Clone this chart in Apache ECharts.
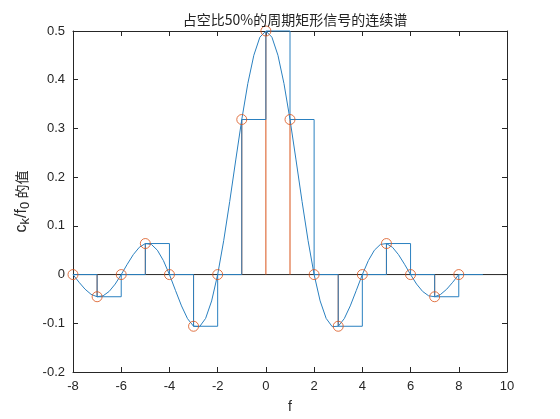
<!DOCTYPE html>
<html><head><meta charset="utf-8">
<script src="https://cdn.jsdelivr.net/npm/echarts@6/dist/echarts.min.js"></script>
<style>html,body{margin:0;padding:0;background:#fff}#c{width:560px;height:419px}</style>
</head><body><div id="c"></div>
<script>
// continuous spectrum samples (f, value)
const curveF = [-8,-7.75,-7.5,-7.25,-7,-6.75,-6.5,-6.25,-6,-5.75,-5.5,-5.25,-5,-4.75,-4.5,-4.25,-4,-3.75,-3.5,-3.25,-3,-2.75,-2.5,-2.25,-2,-1.75,-1.5,-1.25,-1,-0.75,-0.5,-0.25,0,0.25,0.5,0.75,1,1.25,1.5,1.75,2,2.25,2.5,2.75,3,3.25,3.5,3.75,4,4.25,4.5,4.75,5,5.25,5.5,5.75,6,6.25,6.5,6.75,7,7.25,7.5,7.75,8];
const curveV = [0,-0.0157,-0.0300,-0.0406,-0.0455,-0.0436,-0.0346,-0.0195,0,0.0212,0.0409,0.0560,0.0637,0.0619,0.0500,0.0287,0,-0.0325,-0.0643,-0.0905,-0.1061,-0.1069,-0.0900,-0.0541,0,0.0696,0.1501,0.2353,0.3183,0.3921,0.4502,0.4873,0.5,0.4873,0.4502,0.3921,0.3183,0.2353,0.1501,0.0696,0,-0.0541,-0.0900,-0.1069,-0.1061,-0.0905,-0.0643,-0.0325,0,0.0287,0.0500,0.0619,0.0637,0.0560,0.0409,0.0212,0,-0.0195,-0.0346,-0.0436,-0.0455,-0.0406,-0.0300,-0.0157,0];
// discrete spectrum lines c_k / f0
const stemK = [-8,-7,-6,-5,-4,-3,-2,-1,0,1,2,3,4,5,6,7,8];
const stemV = [0,-0.0455,0,0.0637,0,-0.1061,0,0.3183,0.5,0.3183,0,-0.1061,0,0.0637,0,-0.0455,0];
// staircase
const stairX = [-8,-7,-6,-5,-4,-3,-2,-1,0,1,2,3,4,5,6,7,8,9];
const stairV = [0,-0.0455,0,0.0637,0,-0.1061,0,0.3183,0.5,0.3183,0,-0.1061,0,0.0637,0,-0.0455,0,0];
const xTicks = [-8,-6,-4,-2,0,2,4,6,8,10];
const yTicks = [-0.2,-0.1,0,0.1,0.2,0.3,0.4,0.5];

const BLUE = '#2a80c0', ORANGE = '#D95319', AX = '#262626';
const chart = echarts.init(document.getElementById('c'));
const tickStyle = {show:true, inside:true, length:5, lineStyle:{color:AX}};
const lblFont = {color:AX, fontSize:13, fontFamily:'Liberation Sans, Arial, sans-serif'};
const axLine = {show:true, onZero:false, lineStyle:{color:AX}};
chart.setOption({
  animation:false,
  title:{text:'占空比50%的周期矩形信号的连续谱', left:290, top:8, textAlign:'center',
    textStyle:{fontSize:14, fontWeight:'normal', color:'#222', fontFamily:'Noto Sans CJK SC, sans-serif'}},
  grid:{left:73, right:53, top:31, bottom:47},
  xAxis:[{type:'value', min:-8, max:10, interval:2, position:'bottom',
    axisLine:axLine, axisTick:tickStyle, splitLine:{show:false},
    axisLabel:Object.assign({margin:8, formatter:v=>xTicks.includes(v)?String(v):''}, lblFont),
    name:'f', nameLocation:'middle', nameGap:28, nameTextStyle:Object.assign({}, lblFont, {fontSize:14})},
   {type:'value', min:-8, max:10, interval:2, position:'top',
    axisLine:axLine, axisTick:tickStyle, axisLabel:{show:false}, splitLine:{show:false}}],
  yAxis:[{type:'value', min:-0.2, max:0.5, interval:0.1, position:'left',
    axisLine:axLine, axisTick:tickStyle, splitLine:{show:false},
    axisLabel:Object.assign({margin:8, formatter:v=>{const r=Math.round(v*10)/10; return yTicks.includes(r)?String(r):'';}}, lblFont),
    name:'{n|c}{s|k}{n|/f}{s|0}{c| 的值}', nameLocation:'middle', nameGap:37, nameRotate:90,
    nameTextStyle:{rich:{
      n:{fontSize:16, color:AX, fontFamily:'Liberation Sans, Arial, sans-serif'},
      s:{fontSize:13, color:AX, verticalAlign:'bottom', padding:[8,0,0,0], fontFamily:'Liberation Sans, Arial, sans-serif'},
      c:{fontSize:14, color:AX, fontFamily:'Noto Sans CJK SC, sans-serif'}}}},
   {type:'value', min:-0.2, max:0.5, interval:0.1, position:'right',
    axisLine:axLine, axisTick:tickStyle, axisLabel:{show:false}, splitLine:{show:false}}],
  series:[
    {type:'line', data:[[-8,0],[10,0]], symbol:'none', lineStyle:{color:'#262626', width:1}, silent:true, z:1},
    {type:'custom', data:stemK.map((k,i)=>[k,stemV[i]]), z:2,
      renderItem:(params, api)=>{
        const p0 = api.coord([api.value(0),0]), p1 = api.coord([api.value(0),api.value(1)]);
        return {type:'line', shape:{x1:p0[0],y1:p0[1],x2:p1[0],y2:p1[1]}, style:{stroke:ORANGE, lineWidth:1}};
      }},
    {type:'line', data:curveF.map((f,i)=>[f,curveV[i]]), symbol:'none', lineStyle:{color:BLUE, width:1}, z:3, clip:false},
    {type:'line', step:'end', data:stairX.map((x,i)=>[x,stairV[i]]), symbol:'none', lineStyle:{color:BLUE, width:1}, z:4, clip:false},
    {type:'scatter', data:stemK.map((k,i)=>[k,stemV[i]]), symbol:'circle', symbolSize:10,
      itemStyle:{color:'rgba(0,0,0,0)', borderColor:ORANGE, borderWidth:1}, z:5}
  ]
});
</script></body></html>
